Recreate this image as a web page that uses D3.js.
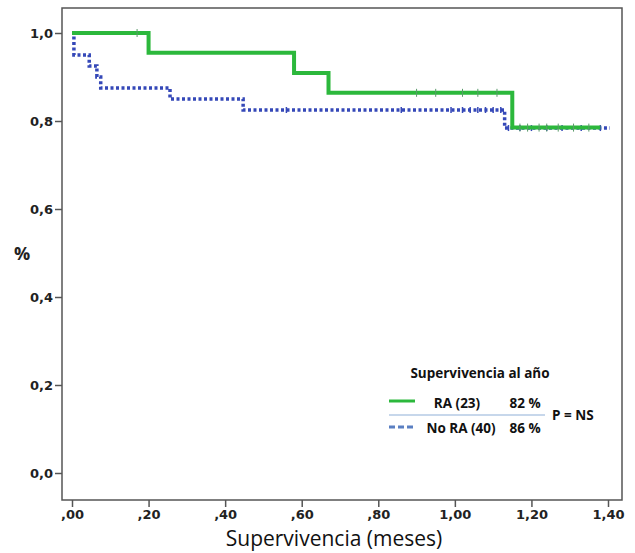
<!DOCTYPE html>
<html>
<head>
<meta charset="utf-8">
<script src="https://cdn.jsdelivr.net/npm/d3@7"></script>
<style>
  body { margin: 0; background: #fff; }
</style>
</head>
<body>
<div class="canvas"></div>
<script>
// Kaplan-Meier data
const raTimes = [0, 0.20, 0.58, 0.67, 1.15];
const raSurv = [1.0, 0.955, 0.909, 0.864, 0.785];
const raEnd = 1.38;
const raCensor = [0.17, 0.90, 0.95, 1.02, 1.06, 1.11, 1.17, 1.19, 1.22, 1.24, 1.27, 1.31, 1.35];

const noRaTimes = [0, 0.005, 0.045, 0.065, 0.075, 0.256, 0.447, 1.13];
const noRaSurv = [1.0, 0.95, 0.925, 0.90, 0.875, 0.85, 0.825, 0.784];
const noRaEnd = 1.405;
const noRaCensor = [0.56, 0.86, 0.99, 1.02, 1.04, 1.06, 1.08, 1.10, 1.12, 1.14, 1.17, 1.20, 1.24, 1.28, 1.33, 1.38];

const xTicks = [0, 0.2, 0.4, 0.6, 0.8, 1.0, 1.2, 1.4];
const yTicks = [0, 0.2, 0.4, 0.6, 0.8, 1.0];

const legendTitle = 'Supervivencia al año';
const legendRows = ['RA (23)', 'No RA (40)'];
const legendPct = ['82 %', '86 %'];
const pText = 'P = NS';

const frame = { left: 62, top: 8, right: 622, bottom: 500 };

const svg = d3.select('.canvas')
    .append('svg')
    .attr('width', 635)
    .attr('height', 553);

const x = d3.scaleLinear().domain([0, 1.4]).range([72, 608]);
const y = d3.scaleLinear().domain([0, 1.0]).range([473, 33]);

// frame
svg.append('rect')
    .attr('x', frame.left)
    .attr('y', frame.top)
    .attr('width', frame.right - frame.left)
    .attr('height', frame.bottom - frame.top)
    .attr('fill', 'none')
    .attr('stroke', '#555')
    .attr('stroke-width', 1.5);

// axes
const fmtY = d => d3.format('.1f')(d).replace('.', ',');
const fmtX = d => {
    const s = d3.format('.2f')(d).replace('.', ',');
    return s.startsWith('0') ? s.slice(1) : s;
};

const yAxis = svg.append('g')
    .attr('transform', `translate(${frame.left}, 0)`)
    .call(d3.axisLeft(y).tickValues(yTicks).tickFormat(fmtY).tickSize(7).tickPadding(2));

const xAxis = svg.append('g')
    .attr('transform', `translate(0, ${frame.bottom})`)
    .call(d3.axisBottom(x).tickValues(xTicks).tickFormat(fmtX).tickSize(7).tickPadding(3));

[yAxis, xAxis].forEach(ax => {
    ax.select('.domain').remove();
    ax.selectAll('line').attr('stroke', '#555').attr('stroke-width', 1.5);
    ax.selectAll('text')
        .attr('fill', '#222')
        .style('font-family', 'DejaVu Sans, sans-serif')
        .style('font-weight', 'bold')
        .style('font-size', '13px');
});

// axis titles
svg.append('text')
    .attr('x', 334)
    .attr('y', 546)
    .attr('text-anchor', 'middle')
    .style('font-family', 'Open Sans, sans-serif')
    .style('font-size', '21px')
    .attr('fill', '#111')
    .text('Supervivencia (meses)');

svg.append('text')
    .attr('x', 22)
    .attr('y', 260)
    .attr('text-anchor', 'middle')
    .style('font-family', 'Open Sans, sans-serif')
    .style('font-weight', 'bold')
    .style('font-size', '18px')
    .attr('fill', '#222')
    .text('%');

// step curves
const stepPoints = (times, surv, end) => {
    const pts = times.map((t, i) => [t, surv[i]]);
    pts.push([end, surv[surv.length - 1]]);
    return pts;
};
const survAt = (times, surv, t) => surv[d3.bisectRight(times, t) - 1];

const line = d3.line()
    .x(d => x(d[0]))
    .y(d => y(d[1]))
    .curve(d3.curveStepAfter);

const blue = '#3548b8';
const green = '#2cb83c';

svg.append('path')
    .datum(stepPoints(noRaTimes, noRaSurv, noRaEnd))
    .attr('d', line)
    .attr('fill', 'none')
    .attr('stroke', blue)
    .attr('stroke-width', 3.5)
    .attr('stroke-dasharray', '3,2.5');

svg.selectAll('.cens-blue')
    .data(noRaCensor)
    .enter()
    .append('line')
    .attr('class', 'cens-blue')
    .attr('x1', d => x(d))
    .attr('x2', d => x(d))
    .attr('y1', d => y(survAt(noRaTimes, noRaSurv, d)) - 3)
    .attr('y2', d => y(survAt(noRaTimes, noRaSurv, d)) + 3)
    .attr('stroke', blue)
    .attr('stroke-width', 1.5);

svg.append('path')
    .datum(stepPoints(raTimes, raSurv, raEnd))
    .attr('d', line)
    .attr('fill', 'none')
    .attr('stroke', green)
    .attr('stroke-width', 4);

svg.selectAll('.cens-green')
    .data(raCensor)
    .enter()
    .append('line')
    .attr('class', 'cens-green')
    .attr('x1', d => x(d))
    .attr('x2', d => x(d))
    .attr('y1', d => y(survAt(raTimes, raSurv, d)) - 4)
    .attr('y2', d => y(survAt(raTimes, raSurv, d)) + 4)
    .attr('stroke', '#5a9a6a')
    .attr('stroke-width', 1);

// legend
const legend = svg.append('g')
    .style('font-family', 'Open Sans, sans-serif')
    .style('font-weight', 'bold')
    .style('font-size', '13.5px')
    .attr('fill', '#111');

legend.append('text').attr('x', 480).attr('y', 378).attr('text-anchor', 'middle').text(legendTitle);

legend.append('line')
    .attr('x1', 389).attr('x2', 415).attr('y1', 401).attr('y2', 401)
    .attr('stroke', green).attr('stroke-width', 3);
legend.append('line')
    .attr('x1', 389).attr('x2', 415).attr('y1', 427).attr('y2', 427)
    .attr('stroke', '#5a7fc2').attr('stroke-width', 3).attr('stroke-dasharray', '6,3');
legend.append('line')
    .attr('x1', 389).attr('x2', 545).attr('y1', 415).attr('y2', 415)
    .attr('stroke', '#8fb0d8').attr('stroke-width', 1.2);

legend.append('text').attr('x', 457).attr('y', 408).attr('text-anchor', 'middle').text(legendRows[0]);
legend.append('text').attr('x', 461).attr('y', 433).attr('text-anchor', 'middle').text(legendRows[1]);
legend.append('text').attr('x', 525).attr('y', 408).attr('text-anchor', 'middle').text(legendPct[0]);
legend.append('text').attr('x', 525).attr('y', 433).attr('text-anchor', 'middle').text(legendPct[1]);
legend.append('text').attr('x', 552).attr('y', 420).text(pText);
</script>
</body>
</html>
